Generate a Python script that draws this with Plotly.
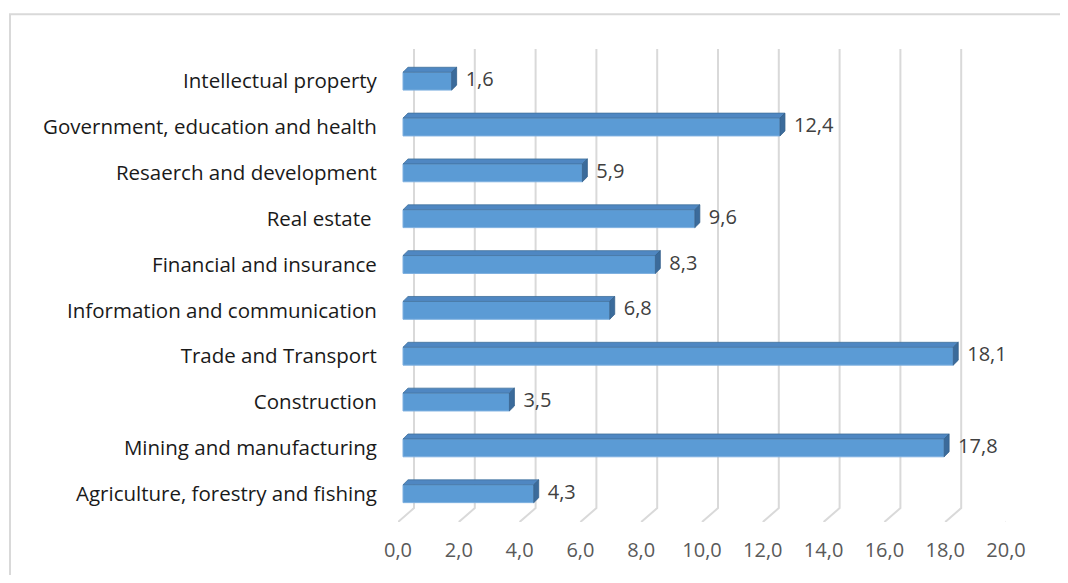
import plotly.graph_objects as go

categories = [
    "Agriculture, forestry and fishing",
    "Mining and manufacturing",
    "Construction",
    "Trade and Transport",
    "Information and communication",
    "Financial and insurance",
    "Real estate\u00a0",
    "Resaerch and development",
    "Government, education and health",
    "Intellectual property",
]
values = [4.3, 17.8, 3.5, 18.1, 6.8, 8.3, 9.6, 5.9, 12.4, 1.6]
x_ticks = [0, 2, 4, 6, 8, 10, 12, 14, 16, 18, 20]

# page body has an 8px margin: size the figure so it fits the 1068x583 window
OFF = 8
W, H = 1068 - 2 * OFF, 583 - 2 * OFF
ML, MT = 398 - OFF, 40 - OFF
MR = W - (1006 - OFF)
MB = H - (526 - OFF)
XR = [0, 20]
YR = [-0.617, 9.898]
pxx = (W - ML - MR) / (XR[1] - XR[0])
pxy = (H - MT - MB) / (YR[1] - YR[0])

# 3D geometry (pixels converted to data units)
base0 = 5 / pxx          # bar front plane offset from floor front
dx = 5 / pxx             # depth offset x
dy = 5 / pxy             # depth offset y
half = 9 / pxy           # half bar height
grid_off = 16 / pxx
grid_top = YR[1] - 9 / pxy
grid_back = YR[0] + 14 / pxy
lab_gap = 9 / pxx

FONT = "Open Sans"
FS_CAT = 20.5
FS = 20

ys = list(range(len(categories)))

fig = go.Figure()

# gridlines (back wall + floor diagonal)
gx, gy = [], []
for t in x_ticks:
    gx += [t + grid_off, t + grid_off, t, None]
    gy += [grid_top, grid_back, YR[0], None]
fig.add_trace(go.Scatter(x=gx, y=gy, mode="lines",
                         line=dict(color="#d9d9d9", width=2),
                         hoverinfo="skip", showlegend=False, cliponaxis=False))

# front faces
fx, fy = [], []
for v, y in zip(values, ys):
    fx += [base0, base0 + v, base0 + v, base0, base0, None]
    fy += [y - half, y - half, y + half, y + half, y - half, None]
fig.add_trace(go.Scatter(x=fx, y=fy, mode="lines", fill="toself",
                         fillcolor="#5b9bd5", line=dict(color="#7eb0e0", width=1),
                         hoverinfo="skip", showlegend=False))

# top faces
tx, ty = [], []
for v, y in zip(values, ys):
    yt = y + half
    tx += [base0, base0 + v, base0 + v + dx, base0 + dx, base0, None]
    ty += [yt, yt, yt + dy, yt + dy, yt, None]
fig.add_trace(go.Scatter(x=tx, y=ty, mode="lines", fill="toself",
                         fillcolor="#4f87c2", line=dict(color="#41719c", width=0.8),
                         hoverinfo="skip", showlegend=False))

# side faces
sx, sy = [], []
for v, y in zip(values, ys):
    xe = base0 + v
    sx += [xe, xe, xe + dx, xe + dx, xe, None]
    sy += [y - half, y + half, y + half + dy, y - half + dy, y - half, None]
fig.add_trace(go.Scatter(x=sx, y=sy, mode="lines", fill="toself",
                         fillcolor="#3b6b9b", line=dict(color="#35618c", width=0.8),
                         hoverinfo="skip", showlegend=False))

# data labels
fig.add_trace(go.Scatter(x=[base0 + v + dx + lab_gap for v in values], y=ys, mode="text",
                         text=[f"{v:.1f}".replace(".", ",") for v in values],
                         textposition="middle right",
                         textfont=dict(family=FONT, size=FS, color="#404040"),
                         hoverinfo="skip", showlegend=False, cliponaxis=False))

# outer frame (only top and left edges fall inside the window)
def px2paper_x(p):
    return (p - ML) / (W - ML - MR)

def px2paper_y(p):
    return 1 - (p - MT) / (H - MT - MB)

fx0, fy0 = px2paper_x(10 - OFF), px2paper_y(14 - OFF)
fx1, fy1 = px2paper_x(W + 10), px2paper_y(H + 10)
fig.add_shape(type="path", xref="paper", yref="paper",
              path=f"M {fx0} {fy1} L {fx0} {fy0} L {fx1} {fy0}",
              line=dict(color="#d9d9d9", width=2), layer="below")

fig.update_layout(
    width=W, height=H,
    margin=dict(l=ML, r=MR, t=MT, b=MB),
    plot_bgcolor="white", paper_bgcolor="white",
    separators=", ",
    xaxis=dict(range=XR, tickvals=x_ticks, tickformat=".1f",
               showgrid=False, zeroline=False, showline=False,
               ticks="outside", ticklen=0, ticklabelstandoff=10,
               tickfont=dict(family=FONT, size=FS, color="#595959")),
    yaxis=dict(range=YR, tickvals=ys, ticktext=categories,
               showgrid=False, zeroline=False, showline=False,
               ticks="outside", ticklen=0, ticklabelstandoff=16,
               tickfont=dict(family=FONT, size=FS_CAT, color="#1a1a1a")),
)

fig.write_html("out.html")
